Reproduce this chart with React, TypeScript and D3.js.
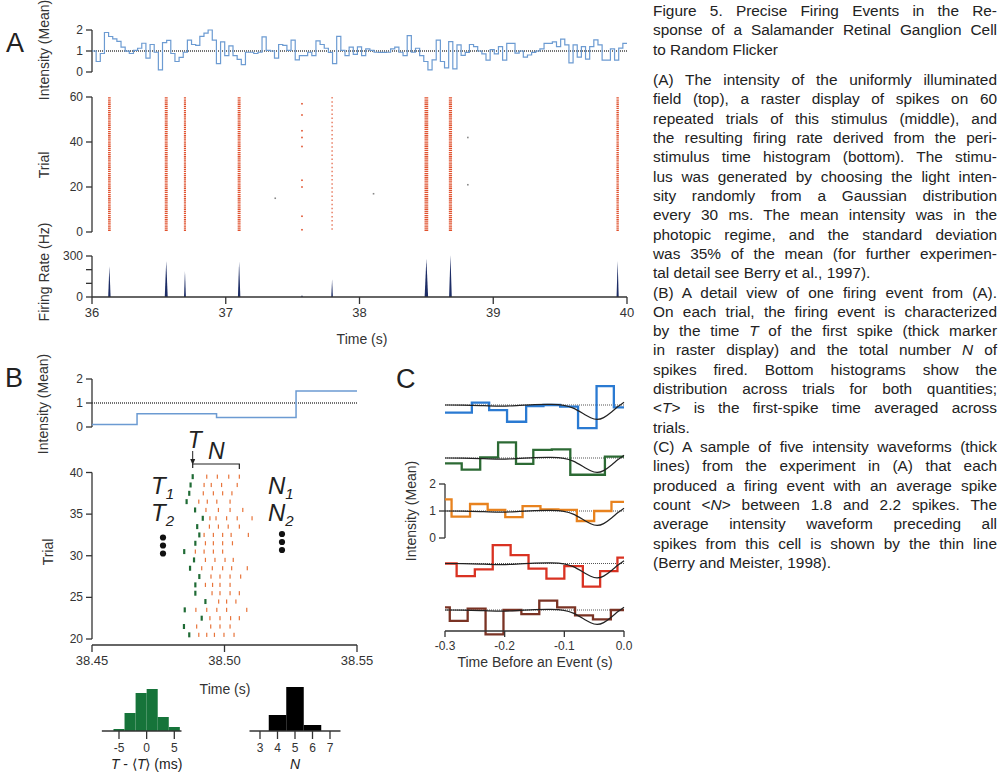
import { useEffect, useRef } from "react";
import * as d3 from "d3";

// ---------- panel A : stimulus, raster, firing rate (36 - 40 s)
const stimA = [
  1.0, 0.5, 0.88, 1.88, 1.69, 1.58, 1.46, 1.18, 0.99, 0.88, 1.03, 1.13, 1.37, 0.66, 1.31, 0.94,
  0.1, 1.4, 1.51, 0.88, 0.5, 0.7, 0.94, 1.52, 1.31, 1.27, 1.7, 1.85, 2.0, 1.52, 0.4, 1.43,
  0.78, 1.24, 0.78, 0.6, 0.35, 0.94, 0.94, 0.88, 0.94, 1.67, 1.03, 1.0,
  0.66, 1.31, 1.27, 1.03, 1.52, 0.58, 0.78, 0.78, 0.94, 0.78, 1.48, 1.31, 1.13, 0.93, 0.4, 1.7,
  1.03, 0.78, 1.18, 0.84, 1.2, 0.78, 1.1, 1.03, 0.94, 0.93, 0.93, 0.94, 1.1, 1.18, 0.94, 0.78,
  1.73, 0.94, 1.13, 0.78, 0.5, 0.1, 0.58, 1.52, 0.5, 0.2, 1.45, 0.15,
  1.29, 0.79, 0.93, 1.31, 1.21, 1.0, 0.86, 0.57, 1.07, 0.86, 1.21, 0.57, 1.36, 1.36, 0.9, 1.0,
  0.71, 0.81, 0.93, 1.0, 1.1, 1.36, 1.36, 1.43, 1.21, 1.57, 1.29, 0.43, 1.29, 0.71, 1.21, 0.61,
  1.21, 1.53, 1.29, 0.57, 0.57, 1.1, 0.57, 1.14, 1.36
];
const burstTimes = [36.13, 36.555, 36.695, 37.1, 38.5, 38.68, 39.93];
const burstSpreadMs = [20, 22, 16, 22, 28, 24, 18];
const looseEventTime = 37.795;
const sparseSpikes = [
  [37.57, 57], [37.57, 52], [37.57, 45], [37.57, 42], [37.57, 38], [37.57, 23], [37.57, 20],
  [37.57, 7], [37.57, 1], [37.37, 15], [38.105, 17], [38.81, 42], [38.81, 21]
];
const rateTimes = [36.13, 36.555, 36.695, 37.1, 37.57, 37.795, 38.5, 38.68, 39.93];
const rateHz = [225, 265, 190, 260, 15, 130, 280, 305, 265];
const rateHalfWidthMs = [9, 11, 7, 9, 6, 6, 13, 10, 8];

// ---------- panel B : one firing event
const stimBStart = [38.45, 38.467, 38.497, 38.527];
const stimB = [0.1, 0.55, 0.4, 1.5];
const rasterTrials = [40, 39, 38, 37, 36, 35, 34, 33, 32, 31, 30, 29, 28, 27, 26, 25, 24, 23, 22, 21];
const firstSpike = [
  38.488, 38.4872, 38.4867, 38.4857, 38.4889, 38.4918, 38.4897, 38.4905, 38.489, 38.4848,
  38.4885, 38.487, 38.4905, 38.489, 38.489, 38.4928, 38.485, 38.4914, 38.4847, 38.4867
];
const laterSpikes = [
  [38.4933, 38.4973, 38.5016, 38.5056],
  [38.4923, 38.495, 38.4989, 38.5048],
  [38.492, 38.4958, 38.4993, 38.5028],
  [38.4903, 38.4935, 38.4971, 38.5021],
  [38.493, 38.4977, 38.5021, 38.5069],
  [38.4945, 38.4968, 38.5008, 38.5048, 38.5104],
  [38.4943, 38.4977, 38.5014, 38.5056],
  [38.4923, 38.4958, 38.4993, 38.5025, 38.509],
  [38.4928, 38.4958, 38.4993, 38.503],
  [38.489, 38.4923, 38.4958, 38.4993],
  [38.4928, 38.4964, 38.5002, 38.5033],
  [38.4914, 38.4954, 38.4993, 38.5027, 38.5086],
  [38.4949, 38.4983, 38.5021, 38.5061],
  [38.4928, 38.4955, 38.4983, 38.5021],
  [38.4953, 38.4983, 38.5021, 38.5056],
  [38.4978, 38.5008, 38.5043],
  [38.4892, 38.4933, 38.4971, 38.5008, 38.5084],
  [38.4945, 38.4983, 38.5023, 38.5056],
  [38.4895, 38.4948, 38.4983, 38.5021],
  [38.4903, 38.4933, 38.4962, 38.4998, 38.5036]
];
const tBinStartMs = [-6, -4, -2, 0, 2, 4];
const tCounts = [1, 9, 19, 21, 7, 2];
const nValues = [4, 5, 6];
const nCounts = [8, 22, 3];

// ---------- panel C : five stimulus waveforms before an event
const waveBlue = [[-0.3, 0.72], [-0.255, 1.09], [-0.226, 0.81], [-0.196, 0.38], [-0.164, 0.96], [-0.135, 1.0], [-0.107, 0.94], [-0.077, 0.14], [-0.046, 1.7], [-0.017, 0.91]];
const waveGreen = [[-0.3, 0.8], [-0.272, 0.57], [-0.241, 1.02], [-0.211, 1.58], [-0.181, 0.78], [-0.152, 1.3], [-0.121, 1.32], [-0.09, 0.38], [-0.061, 0.38], [-0.032, 1.05]];
const waveOrange = [[-0.3, 1.43], [-0.289, 0.79], [-0.258, 1.26], [-0.2285, 1.04], [-0.199, 0.77], [-0.17, 1.18], [-0.14, 1.06], [-0.11, 1.04], [-0.079, 0.63], [-0.05, 1.0], [-0.021, 1.34]];
const waveRed = [[-0.3, 1.0], [-0.2805, 0.53], [-0.25, 0.78], [-0.22, 1.68], [-0.19, 1.31], [-0.16, 0.81], [-0.13, 0.44], [-0.1, 0.9], [-0.069, 0.14], [-0.04, 0.72], [-0.011, 1.22]];
const waveBrown = [[-0.3, 1.1], [-0.292, 0.6], [-0.262, 1.05], [-0.232, 0.1], [-0.202, 1.0], [-0.172, 0.85], [-0.142, 1.35], [-0.112, 1.1], [-0.082, 0.8], [-0.052, 0.65], [-0.022, 1.0]];
const staTime = [-0.3, -0.27, -0.24, -0.21, -0.18, -0.15, -0.12, -0.1, -0.085, -0.07, -0.055, -0.045, -0.035, -0.02, -0.01, 0];
const staValue = [1.0, 1.0, 0.98, 0.95, 0.97, 1.02, 1.03, 1.0, 0.9, 0.7, 0.5, 0.45, 0.5, 0.75, 0.95, 1.1];

// ---------- caption
const captionTitle = [
  "Figure 5. Precise Firing Events in the Re-",
  "sponse of a Salamander Retinal Ganglion Cell",
  "to Random Flicker"
];
const captionBody = [
  "(A) The intensity of the uniformly illuminated",
  "field (top), a raster display of spikes on 60",
  "repeated trials of this stimulus (middle), and",
  "the resulting firing rate derived from the peri-",
  "stimulus time histogram (bottom). The stimu-",
  "lus was generated by choosing the light inten-",
  "sity randomly from a Gaussian distribution",
  "every 30 ms. The mean intensity was in the",
  "photopic regime, and the standard deviation",
  "was 35% of the mean (for further experimen-",
  "tal detail see Berry et al., 1997).",
  "(B) A detail view of one firing event from (A).",
  "On each trial, the firing event is characterized",
  "by the time *T* of the first spike (thick marker",
  "in raster display) and the total number *N* of",
  "spikes fired. Bottom histograms show the",
  "distribution across trials for both quantities;",
  "<*T*> is the first-spike time averaged across",
  "trials.",
  "(C) A sample of five intensity waveforms (thick",
  "lines) from the experiment in (A) that each",
  "produced a firing event with an average spike",
  "count <*N*> between 1.8 and 2.2 spikes. The",
  "average intensity waveform preceding all",
  "spikes from this cell is shown by the thin line",
  "(Berry and Meister, 1998)."
];
const paragraphEnds = [10, 18, 25];

const AX = "#333";
const CAP_X = 653;
const CAP_W = 344;

const italicParts = (s: string) =>
  s.split("*").map((p, j) => (j % 2 ? <tspan key={j} fontStyle="italic">{p}</tspan> : p));

function YLabel({ x, y, text }: { x: number; y: number; text: string }) {
  return (
    <text transform={`translate(${x},${y}) rotate(-90)`} textAnchor="middle" fontSize={14} fill="#333">
      {text}
    </text>
  );
}

function LeftAxis({ scale, x, ticks, labels, from, to }: any) {
  const a = from ?? scale.domain()[0];
  const b = to ?? scale.domain()[1];
  return (
    <g>
      <line x1={x} x2={x} y1={scale(a)} y2={scale(b)} stroke={AX} strokeWidth={1.3} />
      {ticks.map((t: number, i: number) => (
        <g key={i}>
          <line x1={x - 6} x2={x} y1={scale(t)} y2={scale(t)} stroke={AX} strokeWidth={1.3} />
          {labels && labels[i] !== "" && (
            <text x={x - 9} y={scale(t) + 4} textAnchor="end" fontSize={12} fill="#333">
              {labels ? labels[i] : t}
            </text>
          )}
        </g>
      ))}
    </g>
  );
}

function BottomAxis({ scale, y, ticks, labels, from, to, tick = 7, fontSize = 12 }: any) {
  const a = from ?? scale.domain()[0];
  const b = to ?? scale.domain()[1];
  return (
    <g>
      <line x1={scale(a)} x2={scale(b)} y1={y} y2={y} stroke={AX} strokeWidth={1.3} />
      {ticks.map((t: number, i: number) => (
        <g key={i}>
          <line x1={scale(t)} x2={scale(t)} y1={y} y2={y + tick} stroke={AX} strokeWidth={1.3} />
          <text x={scale(t)} y={y + tick + 13} textAnchor="middle" fontSize={fontSize} fill="#333">
            {labels[i]}
          </text>
        </g>
      ))}
    </g>
  );
}

function PanelA() {
  const xA = d3.scaleLinear().domain([36, 40]).range([92, 627]);
  const yStim = d3.scaleLinear().domain([0, 2]).range([72, 30]);
  const yTrial = d3.scaleLinear().domain([0, 60]).range([232, 97]);
  const yRate = d3.scaleLinear().domain([0, 300]).range([297, 256]);

  const step = (40 - 36) / stimA.length;
  const pts: [number, number][] = stimA.map((v, i) => [36 + i * step, v]);
  pts.push([40, stimA[stimA.length - 1]]);
  const stimLine = d3.line<[number, number]>().x(d => xA(d[0])).y(d => yStim(d[1])).curve(d3.curveStepAfter);

  const rateArea = d3.area<[number, number]>().x(d => xA(d[0])).y0(yRate(0)).y1(d => yRate(d[1]));

  return (
    <g>
      <text x={6} y={52} fontSize={27} fill="#222">A</text>
      <YLabel x={49} y={50} text="Intensity (Mean)" />
      <YLabel x={49} y={165} text="Trial" />
      <YLabel x={49} y={272} text="Firing Rate (Hz)" />

      {/* stimulus */}
      <LeftAxis scale={yStim} x={92} ticks={[0, 1, 2]} labels={["0", "1", "2"]} />
      <line x1={xA(36)} x2={xA(40)} y1={yStim(1)} y2={yStim(1)} stroke="#444" strokeWidth={1.3} strokeDasharray="1 1" />
      <path d={stimLine(pts) || ""} fill="none" stroke="#6c9bd2" strokeWidth={1.2} />

      {/* raster */}
      <LeftAxis scale={yTrial} x={92} ticks={[0, 20, 40, 60]} labels={["0", "20", "40", "60"]} />
      {burstTimes.map((t, i) => (
        <line key={i} x1={xA(t)} x2={xA(t)} y1={yTrial(0.5)} y2={yTrial(60)}
          stroke="#e0502c" strokeWidth={xA(t + burstSpreadMs[i] / 1000) - xA(t)} strokeDasharray="1.3 0.8" />
      ))}
      <line x1={xA(looseEventTime)} x2={xA(looseEventTime)} y1={yTrial(1)} y2={yTrial(60)}
        stroke="#e0502c" strokeWidth={1.1} strokeDasharray="1.5 2.6" />
      {sparseSpikes.map((s, i) => (
        <rect key={i} x={xA(s[0]) - 0.8} y={yTrial(s[1]) - 0.8} width={1.6} height={1.6}
          fill={s[0] !== 37.57 ? "#888" : "#e0502c"} />
      ))}

      {/* firing rate */}
      <LeftAxis scale={yRate} x={92} ticks={[0, 100, 200, 300]} labels={["0", "", "", "300"]} />
      {rateTimes.map((t, i) => {
        const w = rateHalfWidthMs[i] / 1000;
        return <path key={i} d={rateArea([[t - w, 0], [t, rateHz[i]], [t + w, 0]]) || ""} fill="#1d2d66" />;
      })}
      <BottomAxis scale={xA} y={297} ticks={[36, 37, 38, 39, 40]} labels={["36", "37", "38", "39", "40"]} tick={7} fontSize={13} />
      <text x={362} y={344} textAnchor="middle" fontSize={14} fill="#333">Time (s)</text>
    </g>
  );
}

function PanelB() {
  const xB = d3.scaleLinear().domain([38.45, 38.55]).range([92, 357]);
  const yStim = d3.scaleLinear().domain([0, 2]).range([427, 379]);
  const yTrial = d3.scaleLinear().domain([20, 40]).range([639, 472.5]);

  const pts: [number, number][] = stimB.map((v, i) => [stimBStart[i], v]);
  pts.push([38.55, stimB[stimB.length - 1]]);
  const stimLine = d3.line<[number, number]>().x(d => xB(d[0])).y(d => yStim(d[1])).curve(d3.curveStepAfter);

  const xT = d3.scaleLinear().domain([-5, 5]).range([119, 174.3]);
  const xN = d3.scaleLinear().domain([3, 7]).range([260, 330]);
  const yCount = d3.scaleLinear().domain([0, 25]).range([731, 681]);

  const t0 = firstSpike[0];
  const tLast = laterSpikes[0][laterSpikes[0].length - 1];

  return (
    <g>
      <text x={5} y={387} fontSize={27} fill="#222">B</text>
      <YLabel x={48} y={404} text="Intensity (Mean)" />
      <YLabel x={53} y={552} text="Trial" />

      <LeftAxis scale={yStim} x={92} ticks={[0, 1, 2]} labels={["0", "1", "2"]} />
      <line x1={xB(38.45)} x2={xB(38.55)} y1={yStim(1)} y2={yStim(1)} stroke="#444" strokeWidth={1.3} strokeDasharray="1 1" />
      <path d={stimLine(pts) || ""} fill="none" stroke="#6c9bd2" strokeWidth={1.5} />

      <LeftAxis scale={yTrial} x={92} ticks={[20, 25, 30, 35, 40]} labels={["20", "25", "30", "35", "40"]} />
      <BottomAxis scale={xB} y={645} ticks={[38.45, 38.5, 38.55]} labels={["38.45", "38.50", "38.55"]} tick={7} fontSize={13} />
      <text x={225} y={694} textAnchor="middle" fontSize={14} fill="#333">Time (s)</text>

      {rasterTrials.map((tr, i) => (
        <g key={i}>
          <rect x={xB(firstSpike[i]) - 1.1} y={yTrial(tr - 0.2)} width={2.2} height={yTrial(tr - 0.8) - yTrial(tr - 0.2)} fill="#1f6b35" />
          {laterSpikes[i].map((s, j) => (
            <rect key={j} x={xB(s) - 0.6} y={yTrial(tr - 0.25)} width={1.2} height={yTrial(tr - 0.75) - yTrial(tr - 0.25)} fill="#e8743a" />
          ))}
        </g>
      ))}

      {/* T / N annotation */}
      <text x={xB(t0) - 5} y={448} fontSize={23} fontStyle="italic" fill="#222">T</text>
      <line x1={xB(t0)} x2={xB(t0)} y1={451} y2={461} stroke="#222" strokeWidth={1} />
      <path d={`M${xB(t0) - 2.5},${459} L${xB(t0)},${465} L${xB(t0) + 2.5},${459} Z`} fill="#222" />
      <text x={(xB(t0) + xB(tLast)) / 2 - 8} y={459} fontSize={23} fontStyle="italic" fill="#222">N</text>
      <path d={`M${xB(t0)},${468} V${464} H${xB(tLast)} V${469}`} fill="none" stroke="#222" strokeWidth={1.2} />

      <text x={151} y={494} fontSize={24} fontStyle="italic" fill="#222">T<tspan fontSize={15} dy={5}>1</tspan></text>
      <text x={151} y={521} fontSize={24} fontStyle="italic" fill="#222">T<tspan fontSize={15} dy={5}>2</tspan></text>
      {[0, 1, 2].map(k => <circle key={k} cx={163} cy={537.5 + k * 8} r={3.1} fill="#111" />)}
      <text x={268} y={494} fontSize={24} fontStyle="italic" fill="#222">N<tspan fontSize={15} dy={5}>1</tspan></text>
      <text x={268} y={521} fontSize={24} fontStyle="italic" fill="#222">N<tspan fontSize={15} dy={5}>2</tspan></text>
      {[0, 1, 2].map(k => <circle key={k} cx={282} cy={534 + k * 8} r={3.1} fill="#111" />)}

      {/* histograms */}
      {tBinStartMs.map((b, i) => (
        <rect key={i} x={xT(b)} y={yCount(tCounts[i])} width={xT(b + 2) - xT(b)} height={yCount(0) - yCount(tCounts[i])} fill="#16743a" />
      ))}
      <BottomAxis scale={xT} y={731} ticks={[-5, 0, 5]} labels={["-5", "0", "5"]} from={-8.1} to={6.3} tick={8} fontSize={12} />
      <text x={xT(0)} y={769} textAnchor="middle" fontSize={14} fill="#222">
        <tspan fontStyle="italic">T</tspan> - ⟨<tspan fontStyle="italic">T</tspan>⟩ (ms)
      </text>
      {nValues.map((n, i) => (
        <rect key={i} x={xN(n - 0.5)} y={yCount(nCounts[i])} width={xN(n + 0.5) - xN(n - 0.5)} height={yCount(0) - yCount(nCounts[i])} fill="#000" />
      ))}
      <BottomAxis scale={xN} y={731} ticks={[3, 4, 5, 6, 7]} labels={["3", "4", "5", "6", "7"]} from={2.4} to={7.6} tick={8} fontSize={12} />
      <text x={xN(5)} y={769} textAnchor="middle" fontSize={14} fontStyle="italic" fill="#222">N</text>
    </g>
  );
}

function PanelC() {
  const xC = d3.scaleLinear().domain([-0.3, 0]).range([445, 624]);
  const waves = [waveBlue, waveGreen, waveOrange, waveRed, waveBrown];
  const colors = ["#2a7ad2", "#2c6a34", "#e8821e", "#d93222", "#7a3324"];
  const baselines = [405, 458, 511, 563.5, 610];
  const sta: [number, number][] = staTime.map((t, i) => [t, staValue[i]]);

  return (
    <g>
      <text x={396} y={388} fontSize={27} fill="#222">C</text>
      <YLabel x={416} y={511} text="Intensity (Mean)" />
      {waves.map((w, k) => {
        const y = d3.scaleLinear().domain([0, 2]).range([baselines[k] + 27, baselines[k] - 27]);
        const pts: [number, number][] = w.map(d => [d[0], d[1]] as [number, number]);
        pts.push([0, w[w.length - 1][1]]);
        const step = d3.line<[number, number]>().x(d => xC(d[0])).y(d => y(d[1])).curve(d3.curveStepAfter);
        const smooth = d3.line<[number, number]>().x(d => xC(d[0])).y(d => y(d[1])).curve(d3.curveBasis);
        return (
          <g key={k}>
            {k === 2 && <LeftAxis scale={y} x={445} ticks={[0, 1, 2]} labels={["0", "1", "2"]} />}
            <line x1={xC(-0.3)} x2={xC(0)} y1={y(1)} y2={y(1)} stroke="#555" strokeWidth={1.2} strokeDasharray="1 1" />
            <path d={step(pts) || ""} fill="none" stroke={colors[k]} strokeWidth={2.3} />
            <path d={smooth(sta) || ""} fill="none" stroke="#222" strokeWidth={1.2} />
          </g>
        );
      })}
      <BottomAxis scale={xC} y={631} ticks={[-0.3, -0.2, -0.1, 0]} labels={["-0.3", "-0.2", "-0.1", "0.0"]} tick={6} fontSize={12} />
      <text x={535} y={667} textAnchor="middle" fontSize={14} fill="#333">Time Before an Event (s)</text>
    </g>
  );
}

function Caption() {
  return (
    <g fontSize={15.4} fill="#222">
      {captionTitle.map((l, i) => (
        <text key={i} className={i < captionTitle.length - 1 ? "just" : ""} x={CAP_X} y={16 + i * 19.4}>{l}</text>
      ))}
      {captionBody.map((l, i) => (
        <text key={i} className={paragraphEnds.includes(i) ? "" : "just"} x={CAP_X} y={85 + i * 19.32}>
          {italicParts(l)}
        </text>
      ))}
    </g>
  );
}

export default function App() {
  const svgRef = useRef<SVGSVGElement>(null);

  useEffect(() => {
    // justify caption lines: widen word gaps, or squeeze a line that is too long
    d3.select(svgRef.current).selectAll<SVGTextElement, unknown>("text.just").each(function () {
      const len = this.getComputedTextLength();
      const gaps = (this.textContent || "").split(" ").length - 1;
      if (len > CAP_W) {
        d3.select(this).attr("textLength", CAP_W).attr("lengthAdjust", "spacingAndGlyphs");
      } else if (gaps > 0) {
        d3.select(this).attr("word-spacing", (CAP_W - len) / gaps);
      }
    });
  }, []);

  return (
    <svg ref={svgRef} width={1000} height={777} style={{ position: "absolute", left: 0, top: 0, background: "#fff" }}
      fontFamily="'Liberation Sans', Arial, Helvetica, sans-serif">
      <PanelA />
      <PanelB />
      <PanelC />
      <Caption />
    </svg>
  );
}
